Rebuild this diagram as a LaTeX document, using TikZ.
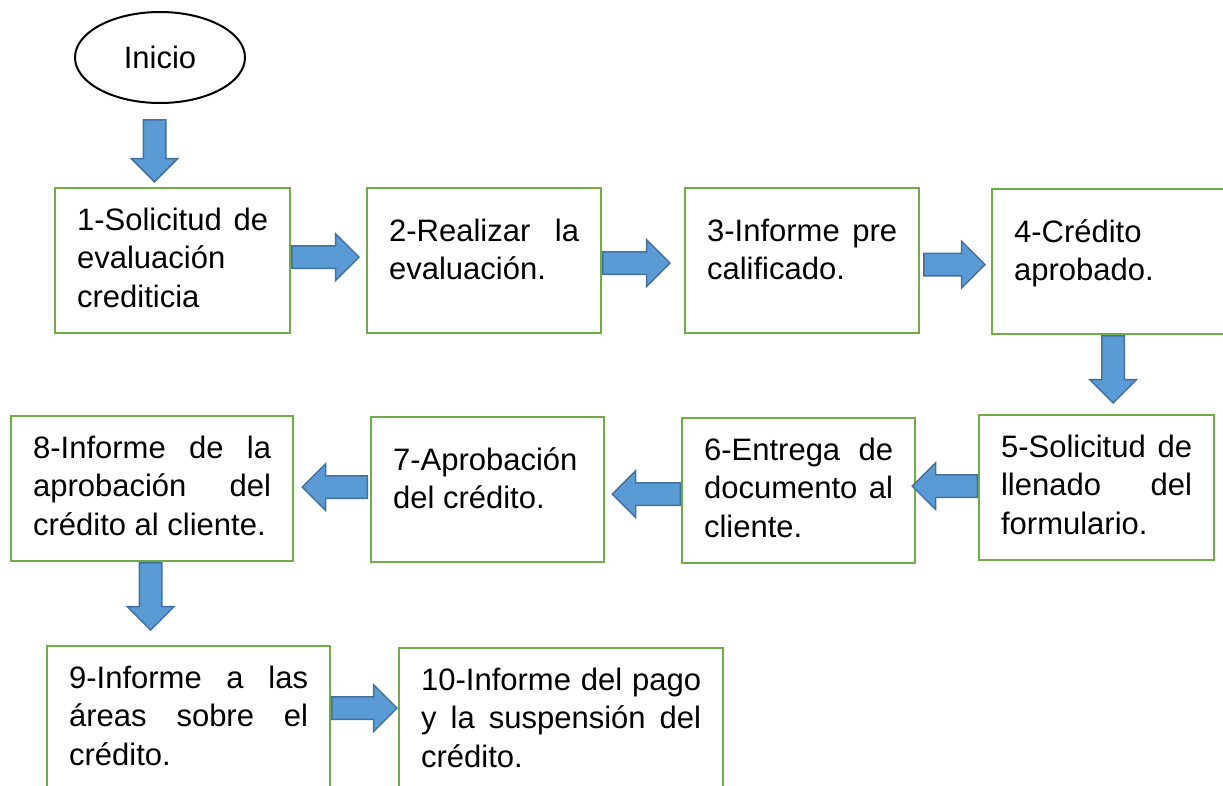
\documentclass[tikz,border=0pt]{standalone}
\usepackage{fontspec}
\setmainfont{Liberation Sans}
\usetikzlibrary{shapes.geometric,shapes.arrows}
\definecolor{verde}{RGB}{112,173,71}
\definecolor{azul}{RGB}{91,155,213}
\definecolor{azulborde}{RGB}{65,113,156}
\tikzset{
  texto/.style={font=\fontsize{31}{38.7}\selectfont},
  caja/.style={texto,draw=verde,line width=2.2pt,rectangle,anchor=north west,align=justify,
    inner xsep=22pt,inner ysep=0pt,text width=#1,text height=42pt,text depth=103pt},
  dos/.style={text height=53pt,text depth=92pt},
  flecha/.style={single arrow,draw=azulborde,fill=azul,line width=1.5pt,minimum height=#1,
    inner xsep=0pt,inner ysep=10.5pt,single arrow head extend=12pt,anchor=tail},
}
\begin{document}
\begin{tikzpicture}[x=1pt,y=-1pt]
\useasboundingbox (0,0) rectangle (1223,785);
\node[texto,ellipse,draw,line width=2pt,minimum width=170pt,minimum height=91pt] (ini) at (160,57.5) {Inicio};
% primera fila
\node[caja=191pt] (b1) at (54,187) {1-Solicitud de\linebreak evaluación\\crediticia};
\node[caja=190pt,dos] (b2) at (366,187) {2-Realizar la\linebreak evaluación.};
\node[caja=190pt,dos] (b3) at (684,187) {3-Informe pre\linebreak calificado.};
\node[caja=191pt,dos] (b4) at (991,188) {4-Crédito\\aprobado.};
% segunda fila
\node[caja=191pt] (b5) at (978,414) {5-Solicitud de\linebreak llenado del\linebreak formulario.};
\node[caja=189pt] (b6) at (681,417) {6-Entrega de\linebreak documento al\linebreak cliente.};
\node[caja=189pt,dos] (b7) at (370,416) {7-Aprobación\\del crédito.};
\node[caja=238pt] (b8) at (10,415) {8-Informe de la\linebreak aprobación del\linebreak crédito al cliente.};
% tercera fila
\node[caja=239pt] (b9) at (46,645) {9-Informe a las\linebreak áreas sobre el\linebreak crédito.};
\node[caja=280pt] (b10) at (398,647) {10-Informe del pago\linebreak y la suspensión del\linebreak crédito.};
% flechas
\node[flecha=62pt,rotate=-90] (a0) at ([xshift=-5.5pt,yshift=-15pt]ini.south) {};
\node[flecha=67pt] (a12) at ([yshift=3.5pt]b1.east) {};
\node[flecha=67pt] (a23) at ([yshift=-2.5pt]b2.east) {};
\node[flecha=61pt] (a34) at ([xshift=3pt,yshift=-4pt]b3.east) {};
\node[flecha=67pt,rotate=-90] (a45) at ([xshift=3.5pt]b4.south) {};
\node[flecha=65pt,rotate=180] (a56) at ([yshift=1.5pt]b5.west) {};
\node[flecha=68pt,rotate=180] (a67) at ([yshift=-3.5pt]b6.west) {};
\node[flecha=65pt,rotate=180] (a78) at ([xshift=-2pt,yshift=2.5pt]b7.west) {};
\node[flecha=67pt,rotate=-90] (a89) at ([xshift=-1.5pt]b8.south) {};
\node[flecha=65pt] (a910) at ([yshift=10.5pt]b9.east) {};
\end{tikzpicture}
\end{document}
